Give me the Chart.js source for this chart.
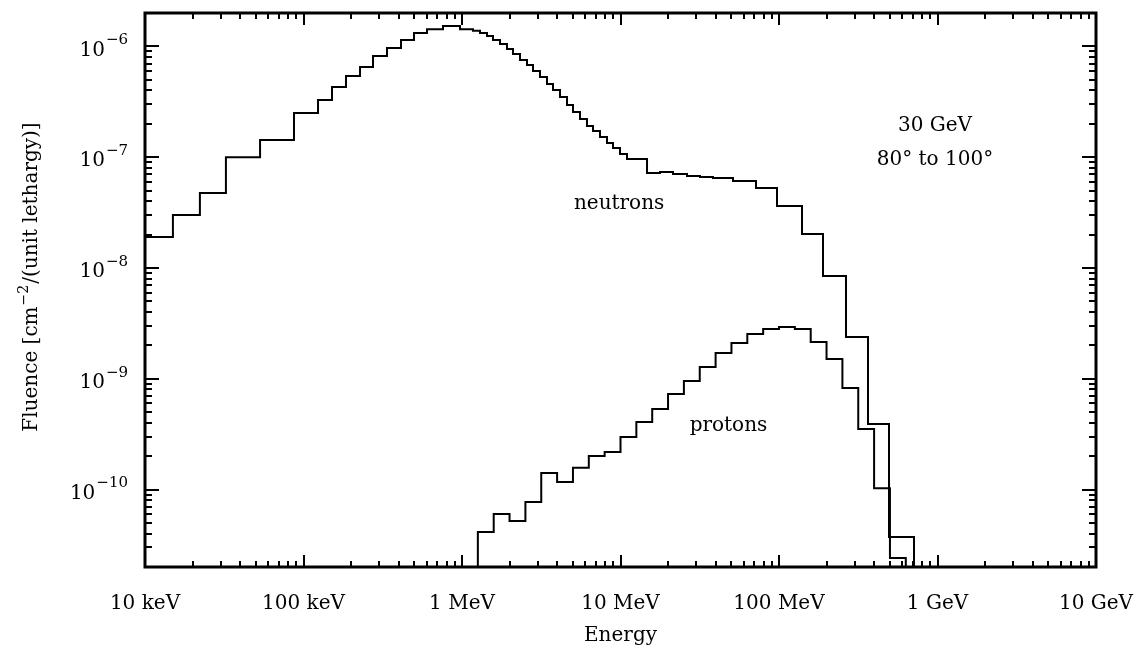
<!DOCTYPE html>
<html><head><meta charset="utf-8">
<script src="https://cdn.jsdelivr.net/npm/chart.js@4.4.1/dist/chart.umd.min.js"></script>
<style>html,body{margin:0;padding:0;background:#fff;} #wrap{width:1140px;height:649px;}</style>
</head><body><div id="wrap"><canvas id="c" width="1140" height="649"></canvas></div>
<script>
const FONT = '"DejaVu Serif", "Liberation Serif", serif';

// Energy bin edges in MeV, fluence values per bin
const neutronEdges = [0.01, 0.0150, 0.0222, 0.0324, 0.0532, 0.0871, 0.1235, 0.1513, 0.1854, 0.2273,
  0.2745, 0.3363, 0.4122, 0.4979, 0.6014, 0.7589, 0.9714, 1.173, 1.299, 1.438,
  1.569, 1.737, 1.922, 2.098, 2.322, 2.571, 2.805, 3.105, 3.438, 3.751,
  4.153, 4.598, 5.016, 5.553, 6.145, 6.708, 7.424, 8.218, 8.967, 9.927,
  10.99, 14.70, 17.75, 21.44, 26.28, 31.74, 38.33, 51.27, 71.60, 97.14,
  139.7, 189.5, 264.7, 364.4, 494.3, 710.9];
const neutronValues = [1.90e-8, 3.00e-8, 4.75e-8, 1.00e-7, 1.43e-7, 2.50e-7, 3.28e-7, 4.30e-7, 5.40e-7, 6.51e-7,
  8.18e-7, 9.66e-7, 1.14e-6, 1.32e-6, 1.43e-6, 1.53e-6, 1.43e-6, 1.38e-6, 1.32e-6, 1.24e-6,
  1.14e-6, 1.05e-6, 9.46e-7, 8.53e-7, 7.53e-7, 6.79e-7, 5.99e-7, 5.29e-7, 4.57e-7, 4.04e-7,
  3.49e-7, 2.96e-7, 2.56e-7, 2.21e-7, 1.91e-7, 1.72e-7, 1.52e-7, 1.34e-7, 1.21e-7, 1.07e-7,
  9.62e-8, 7.19e-8, 7.35e-8, 7.05e-8, 6.76e-8, 6.62e-8, 6.48e-8, 6.09e-8, 5.27e-8, 3.62e-8,
  2.02e-8, 8.46e-9, 2.38e-9, 3.90e-10, 3.73e-11];
const protonEdges = [1.259, 1.585, 1.995, 2.512, 3.162, 3.981, 5.012, 6.310, 7.943, 10.00,
  12.59, 15.85, 19.95, 25.12, 31.62, 39.81, 50.12, 63.10, 79.43, 100.0,
  125.9, 158.5, 199.5, 251.2, 316.2, 398.1, 501.2, 631.0];
const protonValues = [4.14e-11, 6.02e-11, 5.20e-11, 7.72e-11, 1.41e-10, 1.17e-10, 1.57e-10, 2.01e-10, 2.18e-10, 2.98e-10,
  4.07e-10, 5.33e-10, 7.28e-10, 9.54e-10, 1.28e-9, 1.71e-9, 2.10e-9, 2.53e-9, 2.81e-9, 2.93e-9,
  2.81e-9, 2.15e-9, 1.51e-9, 8.25e-10, 3.52e-10, 1.03e-10, 2.41e-11];

const xTickValues = [0.01, 0.1, 1, 10, 100, 1000, 10000];
const xTickLabels = ['10 keV', '100 keV', '1 MeV', '10 MeV', '100 MeV', '1 GeV', '10 GeV'];
const yTickValues = [1e-10, 1e-9, 1e-8, 1e-7, 1e-6];
const yTickBase = '10';
const yTickExponents = ['\u221210', '\u22129', '\u22128', '\u22127', '\u22126'];
const minorSteps = [2, 3, 4, 5, 6, 7, 8, 9];
const xRange = [0.01, 10000];
const yRange = [2e-11, 2e-6];
const FLOOR = 1e-13;

const yTitleParts = ['Fluence [cm', '\u22122', '/(unit lethargy)]'];
const annotations = [
  { text: 'neutrons', x: 9.8, y: 3.8e-8 },
  { text: 'protons', x: 48, y: 3.8e-10 },
  { text: '30 GeV', x: 964, y: 1.9e-7 },
  { text: '80\u00B0 to 100\u00B0', x: 964, y: 9.4e-8 }
];

function histPoints(edges, values, fromFloor) {
  const pts = [];
  if (fromFloor) pts.push({ x: edges[0], y: FLOOR });
  values.forEach((v, i) => pts.push({ x: edges[i], y: v }));
  const last = edges[edges.length - 1];
  pts.push({ x: last, y: values[values.length - 1] });
  pts.push({ x: last, y: FLOOR });
  return pts;
}
function logTicks(range) {
  const t = [];
  for (let e = Math.floor(Math.log10(range[0])); e <= Math.ceil(Math.log10(range[1])); e++) {
    const d = Math.pow(10, e);
    [1, ...minorSteps].forEach(m => {
      const v = m * d;
      if (v >= range[0] * 0.999 && v <= range[1] * 1.001) t.push({ value: v, major: m === 1 });
    });
  }
  return t;
}
function labelFor(v, vals, labels) {
  for (let i = 0; i < vals.length; i++) {
    if (Math.abs(Math.log10(v) - Math.log10(vals[i])) < 1e-6) return labels[i];
  }
  return '';
}
function isDecade(v) { const l = Math.log10(v); return Math.abs(l - Math.round(l)) < 1e-6; }
function zeroPad(s) { s.paddingLeft = 0; s.paddingRight = 0; s.paddingTop = 0; s.paddingBottom = 0; }

const decor = {
  id: 'decor',
  afterDraw(chart) {
    const { ctx, chartArea: a, scales: { x, y } } = chart;
    ctx.save();
    ctx.strokeStyle = '#000';
    ctx.lineWidth = 2;
    ctx.beginPath();
    x.ticks.forEach(t => {
      const px = Math.round(x.getPixelForValue(t.value));
      const len = isDecade(t.value) ? 12 : 6;
      ctx.moveTo(px, a.bottom); ctx.lineTo(px, a.bottom - len);
      ctx.moveTo(px, a.top); ctx.lineTo(px, a.top + len);
    });
    y.ticks.forEach(t => {
      const py = Math.round(y.getPixelForValue(t.value));
      const len = isDecade(t.value) ? 14 : 7;
      ctx.moveTo(a.left, py); ctx.lineTo(a.left + len, py);
      ctx.moveTo(a.right, py); ctx.lineTo(a.right - len, py);
    });
    ctx.stroke();
    ctx.lineWidth = 3;
    ctx.strokeRect(a.left, a.top, a.right - a.left, a.bottom - a.top);

    ctx.fillStyle = '#000';
    // y tick labels with superscript exponents
    const rightEdge = a.left - 17;
    yTickValues.forEach((v, i) => {
      const py = y.getPixelForValue(v);
      ctx.font = '15px ' + FONT;
      ctx.textAlign = 'right'; ctx.textBaseline = 'middle';
      const ew = ctx.measureText(yTickExponents[i]).width;
      ctx.fillText(yTickExponents[i], rightEdge, py - 6);
      ctx.font = '20px ' + FONT;
      ctx.fillText(yTickBase, rightEdge - ew - 1, py + 4);
    });

    // y axis title (rotated) with superscript
    ctx.save();
    ctx.translate(32, 277);
    ctx.rotate(-Math.PI / 2);
    ctx.textBaseline = 'middle'; ctx.textAlign = 'left';
    const fMain = '20px ' + FONT, fSup = '14px ' + FONT;
    ctx.font = fMain; const w0 = ctx.measureText(yTitleParts[0]).width; const w2 = ctx.measureText(yTitleParts[2]).width;
    ctx.font = fSup; const w1 = ctx.measureText(yTitleParts[1]).width;
    let sx = -(w0 + w1 + w2 + 2) / 2;
    ctx.font = fMain; ctx.fillText(yTitleParts[0], sx, 0); sx += w0 + 1;
    ctx.font = fSup; ctx.fillText(yTitleParts[1], sx, -8); sx += w1 + 1;
    ctx.font = fMain; ctx.fillText(yTitleParts[2], sx, 0);
    ctx.restore();

    ctx.font = '20px ' + FONT;
    ctx.textAlign = 'center';
    ctx.textBaseline = 'middle';
    annotations.forEach(an => ctx.fillText(an.text, x.getPixelForValue(an.x), y.getPixelForValue(an.y)));
    ctx.restore();
  }
};

new Chart(document.getElementById('c'), {
  type: 'line',
  data: {
    datasets: [
      { label: 'neutrons', data: histPoints(neutronEdges, neutronValues, false), stepped: 'before',
        borderColor: '#000', borderWidth: 2, pointRadius: 0, fill: false, tension: 0 },
      { label: 'protons', data: histPoints(protonEdges, protonValues, true), stepped: 'before',
        borderColor: '#000', borderWidth: 2, pointRadius: 0, fill: false, tension: 0 }
    ]
  },
  options: {
    responsive: false,
    animation: false,
    devicePixelRatio: 1,
    layout: { padding: { left: 0, right: 44, top: 13, bottom: 0 } },
    plugins: { legend: { display: false }, tooltip: { enabled: false } },
    scales: {
      x: {
        type: 'logarithmic', min: xRange[0], max: xRange[1],
        grid: { display: false, drawTicks: false }, border: { display: false },
        afterBuildTicks: s => { s.ticks = logTicks(xRange); },
        afterFit: s => { s.height = 82; zeroPad(s); },
        ticks: { autoSkip: false, maxRotation: 0, minRotation: 0, padding: 25, color: '#000',
          font: { family: FONT, size: 20 }, callback: v => labelFor(v, xTickValues, xTickLabels) },
        title: { display: true, text: 'Energy', color: '#000', font: { family: FONT, size: 20 },
          padding: { top: 0, bottom: 1 } }
      },
      y: {
        type: 'logarithmic', min: yRange[0], max: yRange[1],
        grid: { display: false, drawTicks: false }, border: { display: false },
        afterBuildTicks: s => { s.ticks = logTicks(yRange); },
        afterFit: s => { s.width = 145; zeroPad(s); },
        ticks: { autoSkip: false, padding: 17, color: '#000',
          font: { family: FONT, size: 20 }, callback: () => '' },
        title: { display: false }
      }
    }
  },
  plugins: [decor]
});
</script></body></html>
